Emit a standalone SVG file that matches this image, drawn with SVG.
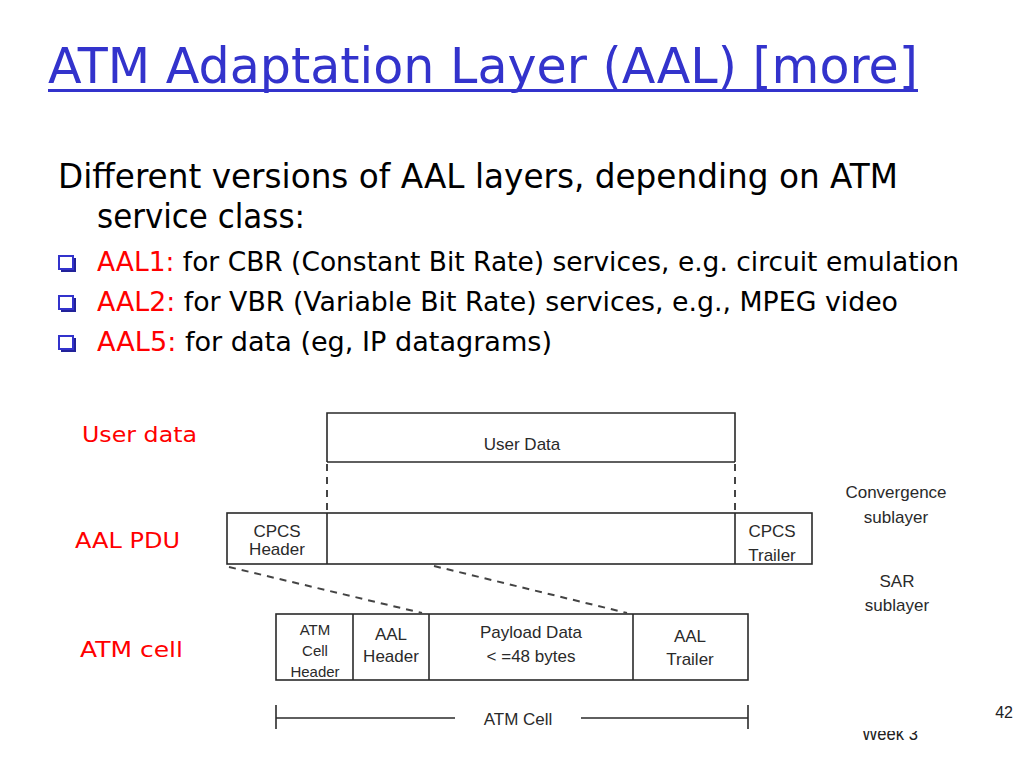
<svg xmlns="http://www.w3.org/2000/svg" width="1024" height="768" viewBox="0 0 1024 768">
<style>
.title{font-family:"DejaVu Sans","Noto Sans",sans-serif;font-size:50px;fill:#3333CC}
.body{font-family:"DejaVu Sans","Noto Sans",sans-serif;fill:#000}
.red{fill:#FF0000}
.lbl{font-family:"DejaVu Sans","Noto Sans",sans-serif;font-size:22px;fill:#FF0000}
.dg{font-family:"Liberation Sans","DejaVu Sans",sans-serif;font-size:17px;fill:#2a2a2a;text-anchor:middle}
.dgs{font-family:"Liberation Sans","DejaVu Sans",sans-serif;font-size:15px;fill:#2a2a2a;text-anchor:middle}
.box{fill:none;stroke:#2a2a2a;stroke-width:1.6}
.ln{stroke:#2a2a2a;stroke-width:1.6;fill:none}
.dash{stroke:#444;stroke-width:2;stroke-dasharray:7,6;fill:none}
.bul{fill:none;stroke:#3333CC;stroke-width:2}
.small{font-family:"Liberation Sans",Arial,sans-serif;fill:#222}
</style>
<defs>
<clipPath id="wk"><rect x="850" y="731" width="90" height="20"/></clipPath>
</defs>
<rect width="1024" height="768" fill="#fff"/>

<g id="title">
<text class="title" x="48" y="83" textLength="870" lengthAdjust="spacingAndGlyphs">ATM Adaptation Layer (AAL) [more]</text>
<rect x="48" y="89" width="870" height="3" fill="#3333CC"/>
</g>

<g id="body">
<text class="body" x="58" y="188" font-size="33" textLength="840" lengthAdjust="spacingAndGlyphs">Different versions of AAL layers, depending on ATM</text>
<text class="body" x="97" y="228" font-size="33" textLength="208" lengthAdjust="spacingAndGlyphs">service class:</text>
<g id="bullets">
<rect class="bul" x="59" y="256" width="14" height="13"/><path d="M75 258V271H61" stroke="#22229a" stroke-width="2" fill="none"/>
<rect class="bul" x="59" y="296" width="14" height="13"/><path d="M75 298V311H61" stroke="#22229a" stroke-width="2" fill="none"/>
<rect class="bul" x="59" y="336" width="14" height="13"/><path d="M75 338V351H61" stroke="#22229a" stroke-width="2" fill="none"/>
</g>
<text class="body" x="97" y="271" font-size="26" textLength="862" lengthAdjust="spacingAndGlyphs"><tspan class="red">AAL1:</tspan> for CBR (Constant Bit Rate) services, e.g. circuit emulation</text>
<text class="body" x="97" y="311" font-size="26" textLength="801" lengthAdjust="spacingAndGlyphs"><tspan class="red">AAL2:</tspan> for VBR (Variable Bit Rate) services, e.g., MPEG video</text>
<text class="body" x="97" y="351" font-size="26" textLength="455" lengthAdjust="spacingAndGlyphs"><tspan class="red">AAL5:</tspan> for data (eg, IP datagrams)</text>
</g>

<g id="labels">
<text class="lbl" x="82" y="442" textLength="115" lengthAdjust="spacingAndGlyphs">User data</text>
<text class="lbl" x="75" y="548" textLength="105" lengthAdjust="spacingAndGlyphs">AAL PDU</text>
<text class="lbl" x="80" y="657" textLength="103" lengthAdjust="spacingAndGlyphs">ATM cell</text>
</g>

<g id="user-data">
<path class="ln" d="M327 462V413H735V462"/>
<line class="ln" x1="327" y1="462" x2="735" y2="462"/>
<text class="dg" x="522" y="450">User Data</text>
</g>

<g id="aal-pdu">
<rect class="box" x="227" y="513" width="585" height="51"/>
<line class="ln" x1="327" y1="513" x2="327" y2="564"/>
<line class="ln" x1="735" y1="513" x2="735" y2="564"/>
<text class="dg" x="277" y="537">CPCS</text>
<text class="dg" x="277" y="555">Header</text>
<text class="dg" x="772" y="537">CPCS</text>
<text class="dg" x="772" y="561">Trailer</text>
</g>

<g id="atm-cell">
<rect class="box" x="276" y="614" width="472" height="66"/>
<line class="ln" x1="353" y1="614" x2="353" y2="680"/>
<line class="ln" x1="429" y1="614" x2="429" y2="680"/>
<line class="ln" x1="633" y1="614" x2="633" y2="680"/>
<text class="dgs" x="315" y="635">ATM</text>
<text class="dgs" x="315" y="656">Cell</text>
<text class="dgs" x="315" y="677">Header</text>
<text class="dg" x="391" y="640">AAL</text>
<text class="dg" x="391" y="662">Header</text>
<text class="dg" x="531" y="638">Payload Data</text>
<text class="dg" x="531" y="662">&lt; =48 bytes</text>
<text class="dg" x="690" y="642">AAL</text>
<text class="dg" x="690" y="665">Trailer</text>
</g>

<g id="sublayers">
<text class="dg" x="896" y="498">Convergence</text>
<text class="dg" x="896" y="523">sublayer</text>
<text class="dg" x="897" y="587">SAR</text>
<text class="dg" x="897" y="611">sublayer</text>
</g>

<g id="connectors">
<line class="dash" x1="327" y1="464" x2="327" y2="512"/>
<line class="dash" x1="735" y1="464" x2="735" y2="512"/>
<line class="dash" x1="229" y1="567" x2="422" y2="613"/>
<line class="dash" x1="434" y1="566" x2="627" y2="613"/>
</g>

<g id="dimension">
<line class="ln" x1="276" y1="705" x2="276" y2="729"/>
<line class="ln" x1="748" y1="705" x2="748" y2="729"/>
<line class="ln" x1="276" y1="718" x2="455" y2="718"/>
<line class="ln" x1="581" y1="718" x2="748" y2="718"/>
<text class="dg" x="518" y="725">ATM Cell</text>
</g>

<g id="footer">
<text class="small" x="1013" y="718" font-size="16" text-anchor="end">42</text>
<text class="small" x="862" y="740" font-size="18" clip-path="url(#wk)" textLength="56" lengthAdjust="spacingAndGlyphs">Week 3</text>
</g>
</svg>
